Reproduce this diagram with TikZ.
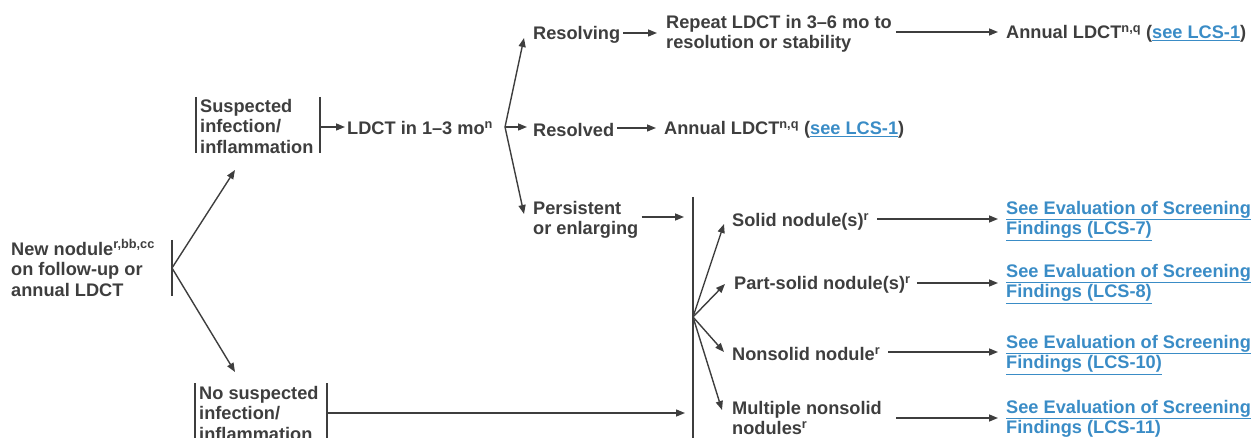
\documentclass[tikz,border=0pt]{standalone}
\usepackage{fontspec}
\setmainfont{Liberation Sans}
\usetikzlibrary{arrows.meta,calc}
\definecolor{tc}{HTML}{3E3E3E}
\definecolor{lc}{HTML}{3A8CC6}
\newcommand{\lnk}[1]{\textcolor{lc}{\underline{#1}}}
\tikzset{
  lbl/.style={anchor=west, inner sep=0pt, align=left, text=tc, font=\fontsize{18.2}{20.5}\selectfont\bfseries},
  arr/.style={draw=tc, line width=1.4pt, -{Triangle[length=9pt,width=7pt]}},
  bar/.style={draw=tc, line width=1.4pt},
}
\begin{document}
\begin{tikzpicture}[x=1pt,y=-1pt]
\useasboundingbox (0,0) rectangle (1257,438);

% nodes
\node[lbl] (newn) at (11,268) {New nodule\textsuperscript{r,bb,cc}\\on follow-up or\\annual LDCT};
\node[lbl] (susp) at (200,126) {Suspected\\infection/\\inflammation};
\node[lbl] (nosusp) at (199,413) {No suspected\\infection/\\inflammation};
\node[lbl] (ldct) at (347,128) {LDCT in 1--3 mo\textsuperscript{n}};
\node[lbl] (resolving) at (533,35) {Resolving};
\node[lbl] (resolved) at (533,130) {Resolved};
\node[lbl] (persist) at (533,220) {Persistent\\or enlarging};
\node[lbl] (repeat) at (666,34) {Repeat LDCT in 3--6 mo to\\resolution or stability};
\node[lbl] (annualA) at (1006,34) {Annual LDCT\textsuperscript{n,q} (\lnk{see LCS-1})};
\node[lbl] (annualB) at (664,130) {Annual LDCT\textsuperscript{n,q} (\lnk{see LCS-1})};
\node[lbl] (solid) at (732,222) {Solid nodule(s)\textsuperscript{r}};
\node[lbl] (part) at (734,285) {Part-solid nodule(s)\textsuperscript{r}};
\node[lbl] (nons) at (732,354) {Nonsolid nodule\textsuperscript{r}};
\node[lbl] (mult) at (732,418) {Multiple nonsolid\\nodules\textsuperscript{r}};
\node[lbl] (lk7) at (1006,221) {\lnk{See Evaluation of Screening}\\\lnk{Findings (LCS-7)}};
\node[lbl] (lk8) at (1006,284) {\lnk{See Evaluation of Screening}\\\lnk{Findings (LCS-8)}};
\node[lbl] (lk10) at (1006,355) {\lnk{See Evaluation of Screening}\\\lnk{Findings (LCS-10)}};
\node[lbl] (lk11) at (1006,420) {\lnk{See Evaluation of Screening}\\\lnk{Findings (LCS-11)}};

% bars and fork points
\coordinate (f1) at (172,268);
\draw[bar] (172,240) -- (172,296);
\draw[bar] (196,97) -- (196,153);
\draw[bar] (320,97) -- (320,153);
\coordinate (suspR) at (320,127);
\draw[bar] (195,383) -- (195,440);
\draw[bar] (327,383) -- (327,440);
\coordinate (nosuspR) at (327,413);
\draw[bar] (693,197) -- (693,440);
\coordinate (f3) at (693,317);
\coordinate (f2) at (505,127);

% target points of fork arrows
\coordinate (tSusp) at (235,170);
\coordinate (tNoSusp) at (235,372);
\coordinate (tResolving) at (524,38);
\coordinate (tPersist) at (524,214);
\coordinate (tSolid) at (724,224);
\coordinate (tPart) at (725,284);
\coordinate (tNons) at (724,352);
\coordinate (tMult) at (722,410);

% connectors
\draw[arr] (f1) -- (tSusp);
\draw[arr] (f1) -- (tNoSusp);
\draw[arr] (suspR) -- ([xshift=-2pt]suspR -| ldct.west);
\draw[arr] (f2) -- (tResolving);
\draw[arr] (f2) -- ([xshift=-6pt]f2 -| resolved.west);
\draw[arr] (f2) -- (tPersist);
\draw[arr] ([xshift=3pt,yshift=2pt]resolving.east) -- ([xshift=-9pt,yshift=2pt]resolving.east -| repeat.west);
\draw[arr] ([xshift=3pt,yshift=2pt]resolved.east) -- ([xshift=-8pt,yshift=2pt]resolved.east -| annualB.west);
\draw[arr] ([xshift=4pt,yshift=2pt]repeat.east) -- ([xshift=-8pt,yshift=2pt]repeat.east -| annualA.west);
\draw[arr] ([xshift=3pt,yshift=3pt]persist.east) -- ([xshift=-9pt,yshift=3pt]persist.east -| f3);
\draw[arr] (nosuspR) -- ([xshift=-8pt]nosuspR -| f3);
\draw[arr] (f3) -- (tSolid);
\draw[arr] (f3) -- (tPart);
\draw[arr] (f3) -- (tNons);
\draw[arr] (f3) -- (tMult);
\draw[arr] ([xshift=8pt,yshift=3pt]solid.east) -- ([xshift=-8pt,yshift=3pt]solid.east -| lk7.west);
\draw[arr] ([xshift=6pt,yshift=2pt]part.east) -- ([xshift=-8pt,yshift=2pt]part.east -| lk8.west);
\draw[arr] ([xshift=8pt,yshift=2pt]nons.east) -- ([xshift=-8pt,yshift=2pt]nons.east -| lk10.west);
\draw[arr] ([xshift=14pt]mult.east) -- ([xshift=-8pt]mult.east -| lk11.west);
\end{tikzpicture}
\end{document}
